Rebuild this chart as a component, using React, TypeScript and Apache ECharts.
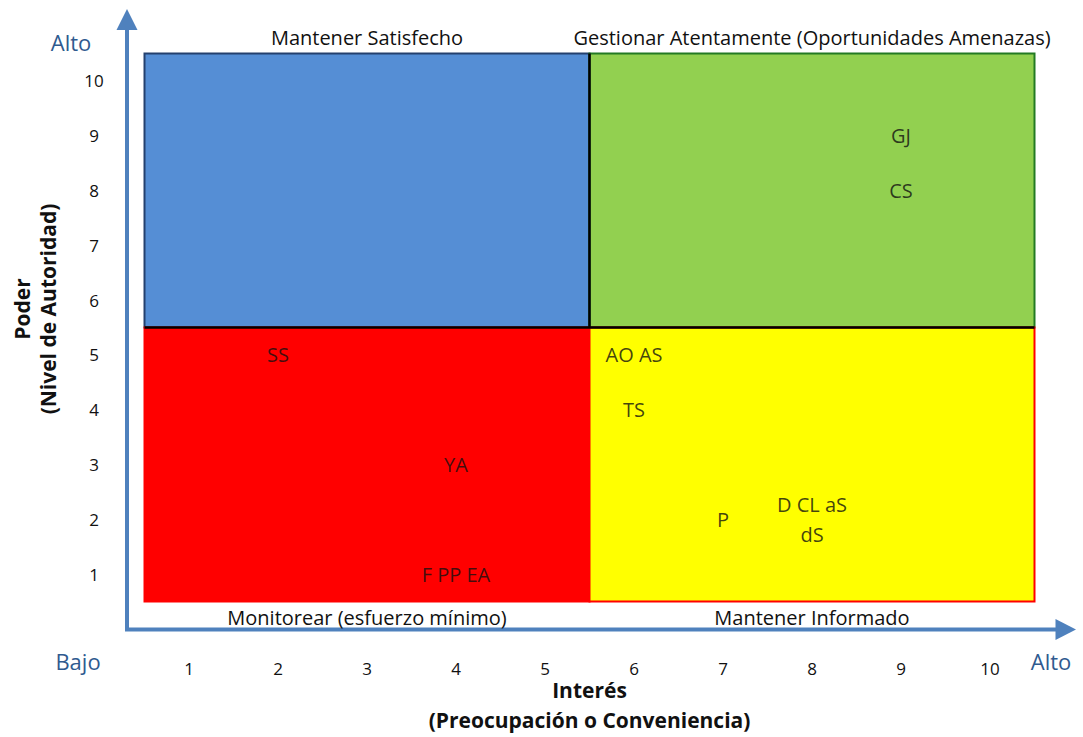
import React, { useEffect, useRef } from "react";
import * as echarts from "echarts";

// Stakeholders (interest = x, power = y)
const stakeholderLabels = ["SS", "YA", "F PP EA", "AO AS", "TS", "P", "D CL aS\ndS", "GJ", "CS"];
const interestValues = [2, 4, 4, 6, 6, 7, 8, 9, 9];
const powerValues = [5, 3, 1, 5, 4, 2, 2, 9, 8];

// Quadrants
const quadrantNames = [
  "Mantener Satisfecho",
  "Gestionar Atentamente (Oportunidades Amenazas)",
  "Monitorear (esfuerzo mínimo)",
  "Mantener Informado",
];
const quadrantXFrom = [0.5, 5.5, 0.5, 5.5];
const quadrantXTo = [5.5, 10.5, 5.5, 10.5];
const quadrantYFrom = [5.5, 5.5, 0.5, 0.5];
const quadrantYTo = [10.5, 10.5, 5.5, 5.5];

// Tick labels
const tickValues = [1, 2, 3, 4, 5, 6, 7, 8, 9, 10];

const xTitle = "Interés\n(Preocupación o Conveniencia)";
const yTitleMain = "Poder";
const yTitleSub = "(Nivel de Autoridad)";

const FONT = "'Open Sans', sans-serif";

export default function App() {
  const ref = useRef<HTMLDivElement>(null);
  useEffect(() => {
    document.body.style.margin = "0";
    if (!ref.current) return;
    const chart = echarts.init(ref.current, null, { renderer: "svg" });

    const quadFill = ["#558ED5", "#92D050", "#FF0000", "#FFFF00"];
    const quadBorder = ["#24406E", "#237A23", "#FF0000", "#FF0000"];
    const quadLabelPos = ["top", "top", "bottom", "bottom"];

    const areaData = quadrantNames.map((name, i) => [
      {
        name,
        xAxis: quadrantXFrom[i],
        yAxis: quadrantYFrom[i],
        itemStyle: { color: quadFill[i], borderColor: quadBorder[i], borderWidth: 2, opacity: 1 },
        label: {
          show: true,
          position: quadLabelPos[i],
          distance: 5,
          color: "#111",
          fontSize: 20,
          fontFamily: FONT,
        },
      },
      { xAxis: quadrantXTo[i], yAxis: quadrantYTo[i] },
    ]);

    const arrowColor = "#4F81BD";
    const textBlue = "#2F5A8F";

    chart.setOption({
      animation: false,
      grid: { left: 100, right: 4, top: 26.2, bottom: 108.2, containLabel: false, outerBoundsMode: "none" },
      xAxis: {
        type: "value",
        min: 0,
        max: 11,
        interval: 1,
        splitLine: { show: false },
        axisLine: { show: false },
        axisTick: { show: false },
        axisLabel: {
          margin: 31,
          color: "#111",
          fontSize: 17,
          fontFamily: FONT,
          formatter: (v: number) => (tickValues.includes(v) ? String(v) : ""),
        },
        name: xTitle,
        nameLocation: "middle",
        nameGap: 46,
        nameMoveOverlap: false,
        nameTextStyle: {
          fontSize: 21,
          fontWeight: "bold",
          fontFamily: FONT,
          color: "#111",
          lineHeight: 30,
        },
      },
      yAxis: {
        type: "value",
        min: 0,
        max: 11,
        interval: 1,
        splitLine: { show: false },
        axisLine: { show: false },
        axisTick: { show: false },
        axisLabel: {
          margin: 6,
          align: "center",
          color: "#111",
          fontSize: 17,
          fontFamily: FONT,
          formatter: (v: number) => (tickValues.includes(v) ? String(v) : ""),
        },
      },
      series: [
        {
          type: "scatter",
          symbolSize: 1,
          itemStyle: { color: "rgba(0,0,0,0)" },
          silent: true,
          z: 5,
          data: interestValues.map((x, i) => ({ value: [x, powerValues[i]], name: stakeholderLabels[i] })),
          label: {
            show: true,
            position: "inside",
            formatter: "{b}",
            color: "#111",
            fontSize: 20,
            fontFamily: FONT,
            lineHeight: 30,
            align: "center",
          },
          markArea: {
            silent: true,
            z: 1,
            data: areaData,
          },
          markLine: {
            silent: true,
            symbol: "none",
            z: 3,
            label: { show: false },
            lineStyle: { color: "#000", width: 2.5, type: "solid" },
            data: [
              [{ coord: [quadrantXFrom[0], quadrantYTo[2]] }, { coord: [quadrantXTo[1], quadrantYTo[3]] }],
              [{ coord: [quadrantXTo[0], quadrantYFrom[0]] }, { coord: [quadrantXTo[0], quadrantYTo[0]] }],
            ],
          },
        },
      ],
      graphic: [
        { type: "line", shape: { x1: 127, y1: 631, x2: 127, y2: 28 }, style: { stroke: arrowColor, lineWidth: 4 } },
        { type: "polygon", shape: { points: [[127, 9], [116.5, 30], [137.5, 30]] }, style: { fill: arrowColor } },
        { type: "line", shape: { x1: 125, y1: 629.5, x2: 1058, y2: 629.5 }, style: { stroke: arrowColor, lineWidth: 4 } },
        { type: "polygon", shape: { points: [[1076, 629.5], [1055.5, 619], [1055.5, 640]] }, style: { fill: arrowColor } },
        { type: "text", x: 71, y: 42, style: { text: "Alto", fill: textBlue, font: `22px ${FONT}`, textAlign: "center", textVerticalAlign: "middle" } },
        { type: "text", x: 78, y: 661, style: { text: "Bajo", fill: textBlue, font: `22px ${FONT}`, textAlign: "center", textVerticalAlign: "middle" } },
        { type: "text", x: 1051, y: 661, style: { text: "Alto", fill: textBlue, font: `22px ${FONT}`, textAlign: "center", textVerticalAlign: "middle" } },
        {
          type: "text",
          x: 22,
          y: 309,
          rotation: Math.PI / 2,
          style: { text: yTitleMain, fill: "#111", font: `bold 21px ${FONT}`, textAlign: "center", textVerticalAlign: "middle" },
        },
        {
          type: "text",
          x: 48,
          y: 309,
          rotation: Math.PI / 2,
          style: { text: yTitleSub, fill: "#111", font: `bold 21px ${FONT}`, textAlign: "center", textVerticalAlign: "middle" },
        },
      ],
    });
    return () => chart.dispose();
  }, []);
  return <div ref={ref} style={{ width: 1083, height: 737 }} />;
}
